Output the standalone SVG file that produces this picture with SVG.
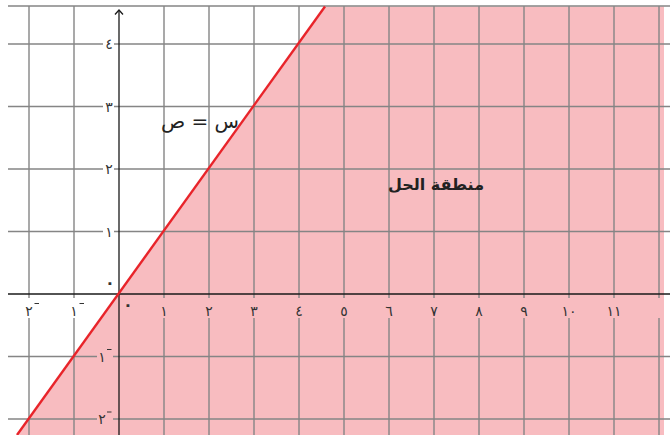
<svg xmlns="http://www.w3.org/2000/svg" width="670" height="435" viewBox="0 0 670 435">
<style>
.grid{stroke:#858585;stroke-width:1.4;fill:none}
.axis{stroke:#1a1a1a;stroke-width:1.3;fill:none}
.num{font-family:"DejaVu Sans",sans-serif;font-size:14px;fill:#333;text-anchor:middle}
.zero{font-weight:bold;font-size:16px}
.neg{stroke:#333;stroke-width:1.1;fill:none}
.lbl{font-family:"DejaVu Sans",sans-serif;fill:#222;text-anchor:middle}
</style>
<rect width="670" height="435" fill="#ffffff"/>
<g id="region">
<polygon points="325,6.5 664,6.5 664,435 17,435" fill="#f8bcc0"/>
</g>
<g id="grid">
<path class="grid" d="M29,6V298M29,318V435 M74,6V298M74,318V435 M164,6V298M164,318V435 M209,6V298M209,318V435 M254,6V298M254,318V435 M299,6V298M299,318V435 M344,6V298M344,318V435 M389,6V298M389,318V435 M434,6V298M434,318V435 M479,6V298M479,318V435 M524,6V298M524,318V435 M569,6V298M569,318V435 M614,6V298M614,318V435 M659,6V298M659,318V435"/>
<path class="grid" d="M8,6H670 M8,44H103M114,44H670 M8,106.5H103M114,106.5H670 M8,169H103M114,169H670 M8,231.5H103M114,231.5H670 M8,356.5H97M113,356.5H670 M8,419H97M113,419H670"/>
</g>
<g id="axes">
<path class="axis" d="M8,294H670"/>
<path class="axis" d="M119,435V10"/>
<path class="axis" d="M115,14.5L119,10L123,14.5"/>
</g>
<g id="line">
<path d="M17,435L325,6.5" stroke="#e8242a" stroke-width="2.4" fill="none"/>
</g>
<g id="x-labels">
<text class="num" x="29" y="316">٢</text>
<text class="num" x="74" y="316">١</text>
<path class="neg" d="M34.5,303.5H39 M79.5,303.5H84"/>
<text class="num zero" x="128" y="310">٠</text>
<text class="num" x="164" y="316">١</text>
<text class="num" x="209" y="316">٢</text>
<text class="num" x="254" y="316">٣</text>
<text class="num" x="299" y="316">٤</text>
<text class="num" x="344" y="316">٥</text>
<text class="num" x="389" y="316">٦</text>
<text class="num" x="434" y="316">٧</text>
<text class="num" x="479" y="316">٨</text>
<text class="num" x="524" y="316">٩</text>
<text class="num" x="569" y="316">١٠</text>
<text class="num" x="614" y="316">١١</text>
</g>
<g id="y-labels">
<text class="num" x="109" y="49">٤</text>
<text class="num" x="109" y="111.5">٣</text>
<text class="num" x="109" y="174">٢</text>
<text class="num" x="109" y="236.5">١</text>
<text class="num zero" x="110" y="288">٠</text>
<text class="num" x="102" y="361.5">١</text>
<text class="num" x="102" y="424">٢</text>
<path class="neg" d="M107,349.5H111.5 M107,412H111.5"/>
</g>
<g id="eq-label">
<text class="lbl" x="200" y="128" font-size="20">س = ص</text>
</g>
<g id="region-label">
<text class="lbl" x="436" y="190" font-size="16" font-weight="bold">منطقة الحل</text>
</g>
</svg>
